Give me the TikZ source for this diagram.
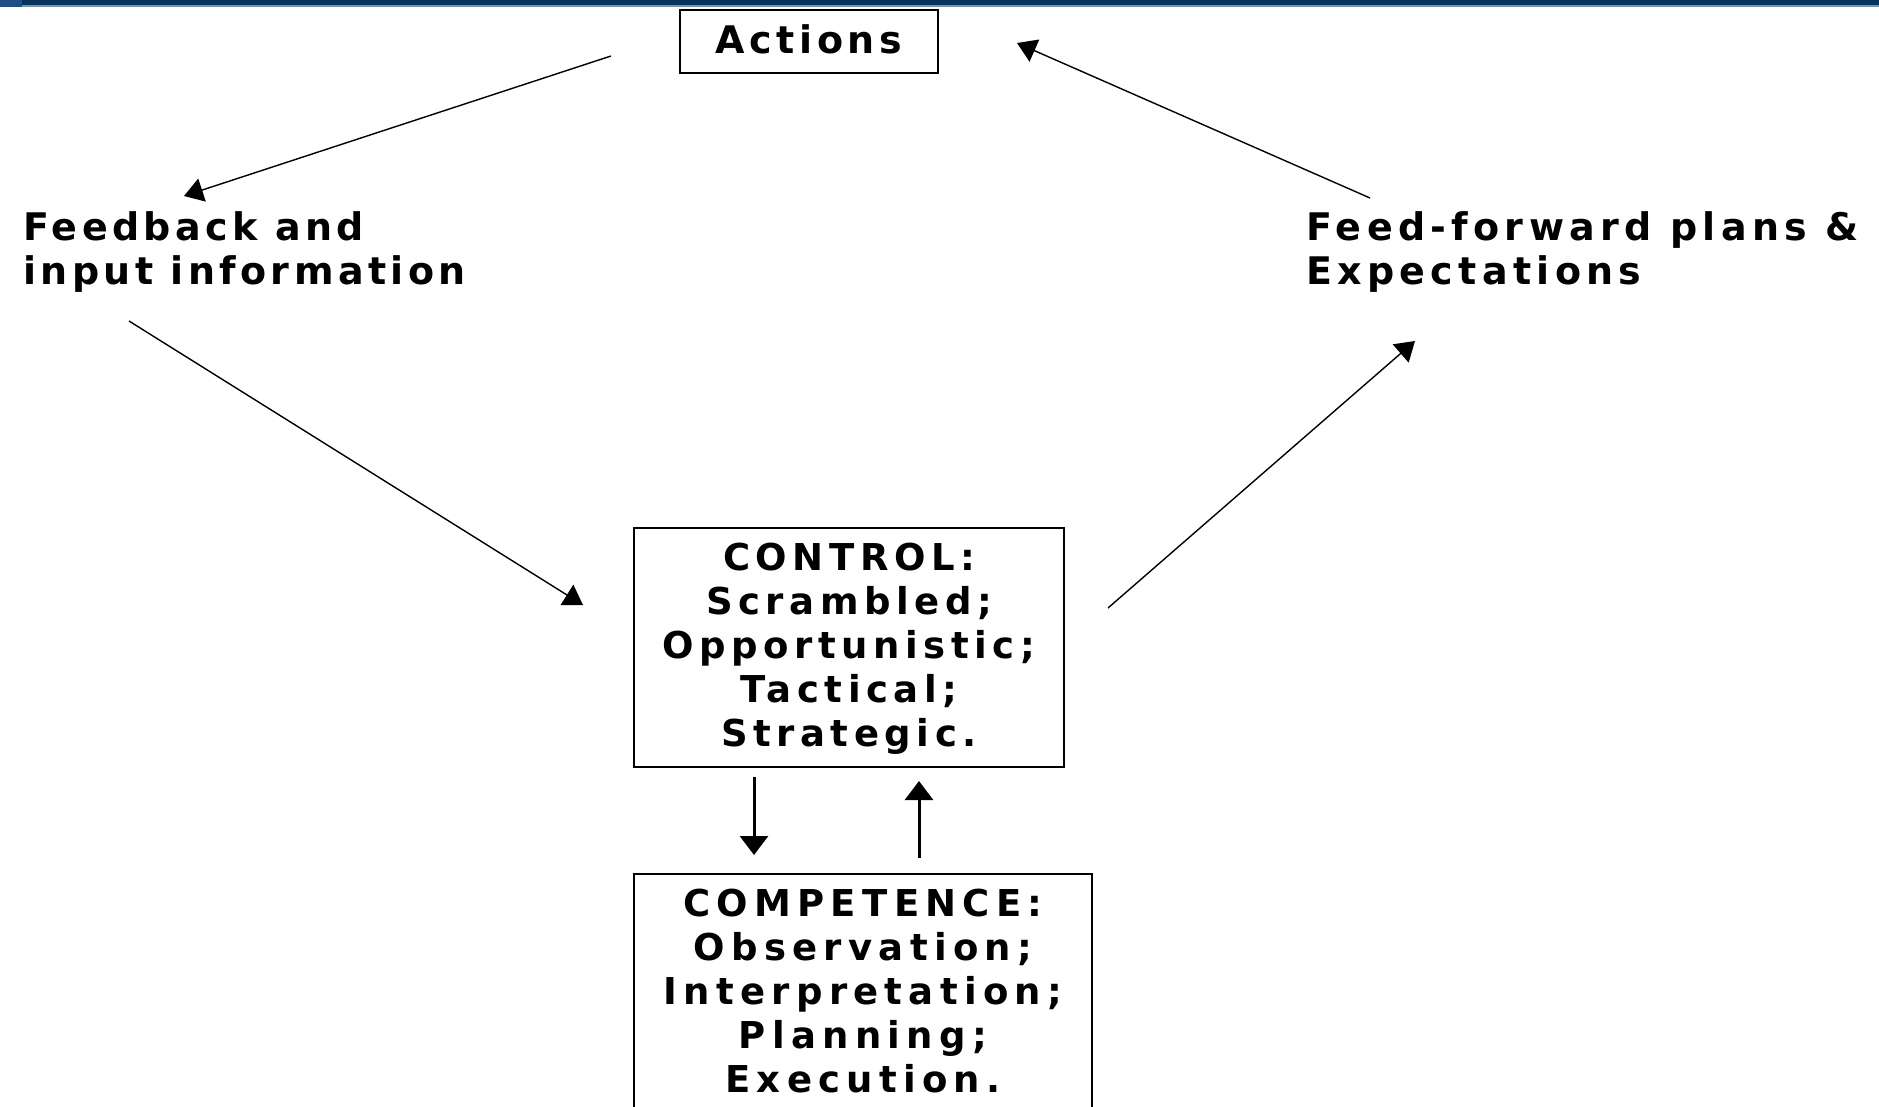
\documentclass[tikz,border=0pt]{standalone}
\usepackage{fontspec}
\setmainfont{DejaVu Sans}
\newfontfamily\pixlab[LetterSpace=14]{DejaVu Sans Bold}
\newfontfamily\pixlabl[LetterSpace=11.5]{DejaVu Sans Bold}
\newfontfamily\pixact[LetterSpace=12]{DejaVu Sans Bold}
\newfontfamily\pixctl[LetterSpace=15]{DejaVu Sans Bold}
\newfontfamily\pixcmp[LetterSpace=17]{DejaVu Sans Bold}
\usetikzlibrary{arrows.meta}
\definecolor{barblue}{HTML}{06325D}
\definecolor{barline}{HTML}{7893A8}
\definecolor{cornerblue}{HTML}{1D4E84}
\begin{document}
\begin{tikzpicture}[x=1pt,y=-1pt,
  boxed/.style={draw=black, line width=2.5pt, inner sep=0pt},
  txt/.style={font=\pixlab\fontsize{38}{44}\selectfont, inner sep=0pt, text=black},
  boxtxt/.style={inner sep=0pt, align=center},
  thin arrow/.style={line width=1.4pt, -{Triangle[length=19pt,width=24pt]}},
  thick arrow/.style={line width=3pt, -{Triangle[length=19pt,width=28pt]}}]
\useasboundingbox (0,0) rectangle (1879,1106);
\fill[white] (0,0) rectangle (1879,1106);
\fill[barblue] (0,0) rectangle (1879,5);
\fill[barline] (0,5) rectangle (1879,7);
\fill[cornerblue] (0,0) rectangle (22,7);

% boxes
\node[boxed, minimum width=258pt, minimum height=63pt] (act) at (809,41.5) {};
\node[inner sep=0pt, font=\pixact\fontsize{38}{44}\selectfont] (acttxt) at (809,39) {Actions};
\node[boxed, minimum width=430pt, minimum height=239pt] (ctrl) at (849,647.5) {};
\node[boxtxt, font=\pixctl\fontsize{37}{44}\selectfont] (ctrltxt) at (849,649) {CONTROL:\\Scrambled;\\Opportunistic;\\Tactical;\\Strategic.};
\node[boxed, minimum width=458pt, minimum height=246pt] (comp) at (863,997) {};
\node[boxtxt, font=\pixcmp\fontsize{37}{44}\selectfont] (comptxt) at (863,991) {COMPETENCE:\\Observation;\\Interpretation;\\Planning;\\Execution.};

% labels
\node[txt, font=\pixlabl\fontsize{38}{44}\selectfont, align=left, anchor=north west] (fb) at (23,211) {Feedback and\\input information};
\node[txt, align=left, anchor=north west] (ff) at (1306,211) {Feed-forward plans \&\\Expectations};

% connector end points
\coordinate (a1s) at (611,56);   \coordinate (a1e) at (184,196);
\coordinate (a2s) at (1370,198); \coordinate (a2e) at (1017,43);
\coordinate (a3s) at (129,321);  \coordinate (a3e) at (583,605);
\coordinate (a4s) at (1108,608); \coordinate (a4e) at (1415,341);
\coordinate (a5s) at (754,777);  \coordinate (a5e) at (754,855);
\coordinate (a6s) at (919,858);  \coordinate (a6e) at (919,781);

\draw[thin arrow] (a1s) -- (a1e);
\draw[thin arrow] (a2s) -- (a2e);
\draw[thin arrow] (a3s) -- (a3e);
\draw[thin arrow] (a4s) -- (a4e);
\draw[thick arrow] (a5s) -- (a5e);
\draw[thick arrow] (a6s) -- (a6e);
\end{tikzpicture}
\end{document}
